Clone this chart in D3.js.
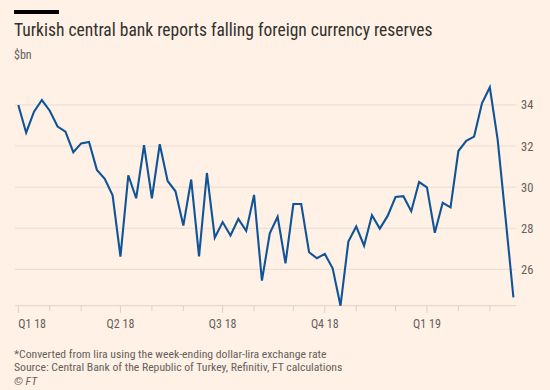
<!DOCTYPE html>
<html>
<head>
<meta charset="utf-8">
<script src="https://cdn.jsdelivr.net/npm/d3@7"></script>
<style>
  body { margin: 0; background: #fff1e5; }
  svg { display: block; }
  text { font-family: "Liberation Sans Narrow", "Roboto Condensed", Roboto, sans-serif; }
</style>
</head>
<body>
<svg id="chart" width="550" height="390"></svg>
<script>
// weekly reserves, $bn, week ending Friday from 5 Jan 2018
const reserves = [
  34.0, 32.65, 33.67, 34.24, 33.72, 32.95, 32.7, 31.7, 32.13, 32.2,
  30.84, 30.41, 29.6, 26.62, 30.58, 29.46, 32.05, 29.46, 32.09, 30.3,
  29.8, 28.13, 30.37, 26.63, 30.69, 27.54, 28.3, 27.65, 28.45, 27.87,
  29.62, 25.45, 27.75, 28.56, 26.29, 29.18, 29.18, 26.83, 26.54, 26.75,
  26.05, 24.23, 27.35, 28.08, 27.15, 28.63, 27.98, 28.6, 29.52, 29.56,
  28.83, 30.25, 29.99, 27.78, 29.24, 29.02, 31.76, 32.25, 32.46, 34.08,
  34.86, 32.3, 28.5, 24.64
]
const firstWeek = new Date(2018, 0, 5)
const weeks = d3.timeFriday.range(firstWeek, d3.timeDay.offset(firstWeek, 7 * reserves.length))
const yTicks = [26, 28, 30, 32, 34]
const quarterLabels = ['Q1 18', 'Q2 18', 'Q3 18', 'Q4 18', 'Q1 19']

const data = weeks.map((d, i) => ({ date: d, value: reserves[i] }))

const svg = d3.select('#chart')

svg.append('rect')
  .attr('x', 14).attr('y', 10)
  .attr('width', 45).attr('height', 4)
  .attr('fill', '#000')

svg.append('text')
  .attr('x', 14).attr('y', 36)
  .attr('font-size', 17.5)
  .attr('fill', '#33302e')
  .text('Turkish central bank reports falling foreign currency reserves')

svg.append('text')
  .attr('x', 14).attr('y', 59)
  .attr('font-size', 12)
  .attr('fill', '#66605c')
  .text('$bn')

const x = d3.scaleTime()
  .domain([weeks[0], weeks[weeks.length - 1]])
  .range([18.3, 513.4])

const y = d3.scaleLinear()
  .domain(d3.extent(reserves))
  .range([305.7, 87.3])

const left = 15, right = 515.7

// gridlines
svg.append('g')
  .selectAll('line')
  .data(yTicks)
  .enter()
  .append('line')
  .attr('x1', left).attr('x2', right)
  .attr('y1', d => y(d)).attr('y2', d => y(d))
  .attr('stroke', '#e9dcd0')
  .attr('stroke-width', 1)

svg.append('g')
  .selectAll('text')
  .data(yTicks)
  .enter()
  .append('text')
  .attr('x', 521)
  .attr('y', d => y(d))
  .attr('dy', '0.36em')
  .attr('font-size', 12.5)
  .attr('fill', '#66605c')
  .text(d => d)

// x axis: tick at the first week of each month
const monthWeeks = weeks.filter(d => d.getDate() <= 7)
const quarterWeeks = monthWeeks.filter(d => d.getMonth() % 3 === 0)

svg.append('line')
  .attr('x1', left).attr('x2', right)
  .attr('y1', 305.7).attr('y2', 305.7)
  .attr('stroke', '#e0d3c7')

svg.append('g')
  .selectAll('line')
  .data(monthWeeks)
  .enter()
  .append('line')
  .attr('x1', d => x(d)).attr('x2', d => x(d))
  .attr('y1', 305.7)
  .attr('y2', d => d.getMonth() % 3 === 0 ? 313 : 311)
  .attr('stroke', '#ddd0c4')

svg.append('g')
  .selectAll('text')
  .data(quarterWeeks)
  .enter()
  .append('text')
  .attr('x', d => x(d))
  .attr('y', 327.5)
  .attr('text-anchor', (d, i) => i === 0 ? 'start' : 'middle')
  .attr('font-size', 12)
  .attr('fill', '#66605c')
  .text((d, i) => quarterLabels[i])

const line = d3.line()
  .x(d => x(d.date))
  .y(d => y(d.value))

svg.append('path')
  .datum(data)
  .attr('fill', 'none')
  .attr('stroke', '#0f5499')
  .attr('stroke-width', 2.1)
  .attr('stroke-linejoin', 'miter')
  .attr('d', line)

const notes = [
  '*Converted from lira using the week-ending dollar-lira exchange rate',
  'Source: Central Bank of the Republic of Turkey, Refinitiv, FT calculations'
]
svg.append('g')
  .selectAll('text')
  .data(notes)
  .enter()
  .append('text')
  .attr('x', 14)
  .attr('y', (d, i) => 357.8 + i * 13.5)
  .attr('font-size', 11.7)
  .attr('fill', '#66605c')
  .text(d => d)

svg.append('text')
  .attr('x', 14).attr('y', 384.8)
  .attr('font-size', 11.7)
  .attr('font-style', 'italic')
  .attr('fill', '#66605c')
  .text('© FT')
</script>
</body>
</html>
